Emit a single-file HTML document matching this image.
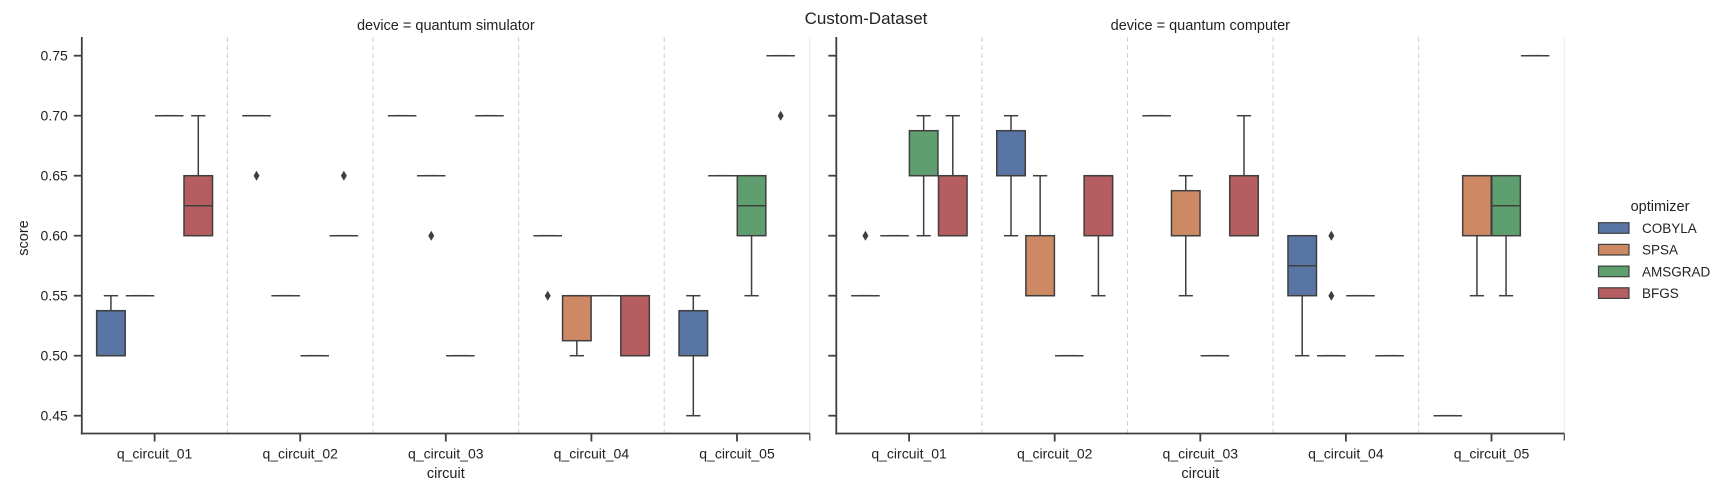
<!DOCTYPE html>
<html><head><meta charset="utf-8"><style>
html,body{margin:0;padding:0;background:#fff;}
svg{display:block;font-family:"Liberation Sans",sans-serif;}
</style></head><body>
<svg id="chart" width="1732" height="500" viewBox="0 0 1732 500">
<text x="866" y="24" font-size="17" text-anchor="middle" fill="#222">Custom-Dataset</text>
</svg>
<script>
const categories = ["q_circuit_01","q_circuit_02","q_circuit_03","q_circuit_04","q_circuit_05"];
const optimizers = ["COBYLA","SPSA","AMSGRAD","BFGS"];
const panels = ["quantum simulator","quantum computer"];
const yTicks = [0.45,0.50,0.55,0.60,0.65,0.70,0.75];
const yTickLabels = ["0.45","0.50","0.55","0.60","0.65","0.70","0.75"];
// each stat: [whiskerLow, q1, median, q3, whiskerHigh, [outliers]] ; index [circuit][optimizer]
const simulatorStats = [
 [[0.5,0.5,0.5,0.5375,0.55,[]],[0.55,0.55,0.55,0.55,0.55,[]],[0.7,0.7,0.7,0.7,0.7,[]],[0.6,0.6,0.625,0.65,0.7,[]]],
 [[0.7,0.7,0.7,0.7,0.7,[0.65]],[0.55,0.55,0.55,0.55,0.55,[]],[0.5,0.5,0.5,0.5,0.5,[]],[0.6,0.6,0.6,0.6,0.6,[0.65]]],
 [[0.7,0.7,0.7,0.7,0.7,[]],[0.65,0.65,0.65,0.65,0.65,[0.6]],[0.5,0.5,0.5,0.5,0.5,[]],[0.7,0.7,0.7,0.7,0.7,[]]],
 [[0.6,0.6,0.6,0.6,0.6,[0.55]],[0.5,0.5125,0.55,0.55,0.55,[]],[0.55,0.55,0.55,0.55,0.55,[]],[0.5,0.5,0.5,0.55,0.55,[]]],
 [[0.45,0.5,0.5,0.5375,0.55,[]],[0.65,0.65,0.65,0.65,0.65,[]],[0.55,0.6,0.625,0.65,0.65,[]],[0.75,0.75,0.75,0.75,0.75,[0.7]]]
];
const computerStats = [
 [[0.55,0.55,0.55,0.55,0.55,[0.6]],[0.6,0.6,0.6,0.6,0.6,[]],[0.6,0.65,0.65,0.6875,0.7,[]],[0.6,0.6,0.6,0.65,0.7,[]]],
 [[0.6,0.65,0.65,0.6875,0.7,[]],[0.55,0.55,0.55,0.6,0.65,[]],[0.5,0.5,0.5,0.5,0.5,[]],[0.55,0.6,0.65,0.65,0.65,[]]],
 [[0.7,0.7,0.7,0.7,0.7,[]],[0.55,0.6,0.6,0.6375,0.65,[]],[0.5,0.5,0.5,0.5,0.5,[]],[0.6,0.6,0.6,0.65,0.7,[]]],
 [[0.5,0.55,0.575,0.6,0.6,[]],[0.5,0.5,0.5,0.5,0.5,[0.6,0.55]],[0.55,0.55,0.55,0.55,0.55,[]],[0.5,0.5,0.5,0.5,0.5,[]]],
 [[0.45,0.45,0.45,0.45,0.45,[]],[0.55,0.6,0.65,0.65,0.65,[]],[0.55,0.6,0.625,0.65,0.65,[]],[0.75,0.75,0.75,0.75,0.75,[]]]
];
const allStats = [simulatorStats, computerStats];
const colors = ["#5975a4","#cc8963","#5f9e6e","#b55d60"];

const svg = document.getElementById('chart');
const NS = "http://www.w3.org/2000/svg";
const panelX = [81.8, 836.3];
const panelW = 728;
const yTop = 37, yBot = 433.5;
const y = v => 55.7 + (0.75 - v) / 0.05 * 60;
function mk(tag, attrs, parent){
  const e = document.createElementNS(NS, tag);
  for (const k in attrs) e.setAttribute(k, attrs[k]);
  (parent || svg).appendChild(e);
  return e;
}
const LC = "#3f3f3f";
panels.forEach((p, pi) => {
  const x0 = panelX[pi];
  const cw = panelW / categories.length;
  const xc = i => x0 + cw * (i + 0.5);
  const g = mk('g', {});
  
  
  // separators
  for (let i = 1; i <= categories.length; i++) {
    const l = mk('line', {x1: x0 + cw * i, x2: x0 + cw * i, y1: yTop, y2: yBot, stroke: "#d0d0d0", "stroke-width": 1, "stroke-dasharray": i === categories.length ? "none" : "5,3", opacity: i === categories.length ? 0.5 : 1}, g);
    
    
  }
  // title
  const t = mk('text', {x: x0 + panelW / 2, y: 30, "font-size": 14.5, "text-anchor": "middle", fill: "#222"}, g);
  t.textContent = "device = " + p;
  
  
  // axes
  const ya = mk('line', {x1: x0, x2: x0, y1: yTop, y2: yBot + 1, stroke: LC, "stroke-width": 1.8}, g);
  
  
  const xa = mk('line', {x1: x0 - 1, x2: x0 + panelW, y1: yBot, y2: yBot, stroke: LC, "stroke-width": 1.8}, g);
  
  
  mk('line', {x1: x0 + panelW, x2: x0 + panelW, y1: yBot, y2: yBot + 7, stroke: LC, "stroke-width": 1.2}, g);
  yTicks.forEach((v, i) => {
    const tk = mk('line', {x1: x0 - 8, x2: x0, y1: y(v), y2: y(v), stroke: LC, "stroke-width": 1.8}, g);
    
    
    if (pi === 0) {
      const tl = mk('text', {x: x0 - 14, y: y(v) + 5, "font-size": 14, "text-anchor": "end", fill: "#222"}, g);
      tl.textContent = yTickLabels[i];
      
      
    }
  });
  categories.forEach((c, ci) => {
    const tk = mk('line', {x1: xc(ci), x2: xc(ci), y1: yBot, y2: yBot + 8, stroke: LC, "stroke-width": 1.8}, g);
    
    
    const tl = mk('text', {x: xc(ci), y: yBot + 25, "font-size": 14, "text-anchor": "middle", fill: "#222"}, g);
    tl.textContent = c;
    
    
    optimizers.forEach((o, oi) => {
      const s = allStats[pi][ci][oi];
      if (!s) return;
      const cx = xc(ci) + (-0.3 + 0.2 * oi) * cw;
      const bw = 0.196 * cw;
      const bg = mk('g', {}, g);
      
      
      mk('line', {x1: cx, x2: cx, y1: y(s[0]), y2: y(s[1]), stroke: LC, "stroke-width": 1.5}, bg);
      mk('line', {x1: cx, x2: cx, y1: y(s[3]), y2: y(s[4]), stroke: LC, "stroke-width": 1.5}, bg);
      mk('line', {x1: cx - bw / 4, x2: cx + bw / 4, y1: y(s[0]), y2: y(s[0]), stroke: LC, "stroke-width": 1.5}, bg);
      mk('line', {x1: cx - bw / 4, x2: cx + bw / 4, y1: y(s[4]), y2: y(s[4]), stroke: LC, "stroke-width": 1.5}, bg);
      mk('rect', {x: cx - bw / 2, y: y(s[3]), width: bw, height: Math.max(0, y(s[1]) - y(s[3])), fill: colors[oi], stroke: LC, "stroke-width": 1.5}, bg);
      mk('line', {x1: cx - bw / 2, x2: cx + bw / 2, y1: y(s[2]), y2: y(s[2]), stroke: LC, "stroke-width": 1.5}, bg);
      s[5].forEach(ov => {
        const d = mk('path', {d: `M${cx},${y(ov)-5} L${cx+3},${y(ov)} L${cx},${y(ov)+5} L${cx-3},${y(ov)} Z`, fill: LC}, bg);
        
        
      });
    });
  });
  const xl = mk('text', {x: x0 + panelW / 2, y: 478, "font-size": 14.5, "text-anchor": "middle", fill: "#222"}, g);
  xl.textContent = "circuit";
  
  
});
const yl = mk('text', {x: 0, y: 0, "font-size": 14.5, "text-anchor": "middle", fill: "#222", transform: "translate(28,238) rotate(-90)"});
yl.textContent = "score";


// legend
const lg = mk('g', {});


const lt = mk('text', {x: 1660, y: 211, "font-size": 14.5, "text-anchor": "middle", fill: "#222"}, lg);
lt.textContent = "optimizer";


optimizers.forEach((o, oi) => {
  const cy = 228 + oi * 21.7;
  const e = mk('g', {}, lg);
  
  
  mk('rect', {x: 1598.5, y: cy - 5.3, width: 30.5, height: 10.6, fill: colors[oi], stroke: LC, "stroke-width": 1.2}, e);
  const tx = mk('text', {x: 1642, y: cy + 5, "font-size": 13.5, fill: "#222"}, e);
  tx.textContent = o;
});
</script>
</body></html>
